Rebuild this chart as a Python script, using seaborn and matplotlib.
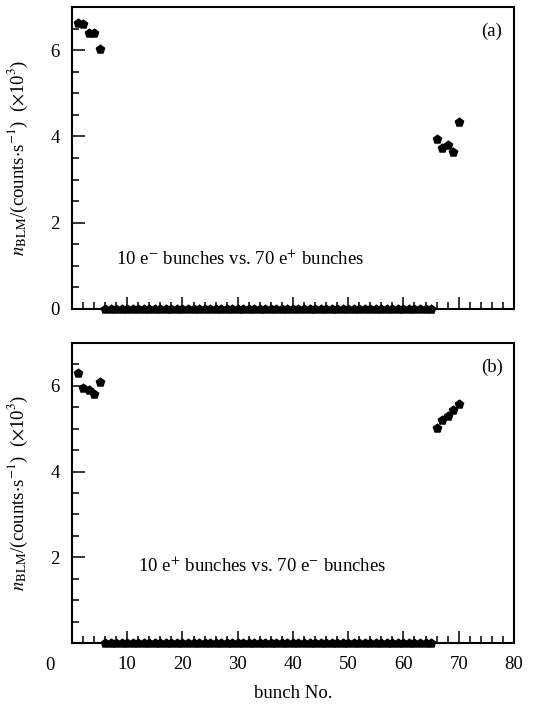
import matplotlib
matplotlib.use("Agg")
import matplotlib.pyplot as plt
import matplotlib.transforms as mtransforms
from matplotlib.ticker import MultipleLocator
import seaborn as sns
import pandas as pd

# --------------------------------------------------------------
# Data, n_BLM in units of 10^3 counts/s
# --------------------------------------------------------------

bunch_left = [1, 2, 3, 4, 5]
bunch_right = [66, 67, 68, 69, 70]
bunch_mid = list(range(6, 66))
zeros_mid = [0.0] * len(bunch_mid)

# (a) 10 e- bunches vs. 70 e+ bunches
nblm_a_left = [6.62, 6.61, 6.40, 6.39, 6.02]
nblm_a_right = [3.94, 3.73, 3.80, 3.63, 4.33]

# (b) 10 e+ bunches vs. 70 e- bunches
nblm_b_left = [6.30, 5.95, 5.90, 5.82, 6.10]
nblm_b_right = [5.02, 5.20, 5.30, 5.44, 5.58]

panel_labels = ["(a)", "(b)"]
panel_texts = [r"10 e$^{-}$ bunches vs. 70 e$^{+}$ bunches",
               r"10 e$^{+}$ bunches vs. 70 e$^{-}$ bunches"]
text_pos = [(8, 1.15), (12, 1.8)]

sns.set_style("white")
plt.rcParams["font.family"] = ["Liberation Serif", "DejaVu Serif"]
plt.rcParams["mathtext.fontset"] = "stix"
plt.rcParams["text.color"] = "black"
plt.rcParams["axes.labelcolor"] = "black"

FS = 13.5


def panel_frame(left, right):
    return pd.DataFrame({
        "bunch": bunch_left + bunch_mid + bunch_right,
        "nblm": left + zeros_mid + right,
    })


frames = [panel_frame(nblm_a_left, nblm_a_right),
          panel_frame(nblm_b_left, nblm_b_right)]

fig = plt.figure(figsize=(5.35, 7.04), dpi=100)
ax_a = fig.add_axes([0.1346, 0.5611, 0.826, 0.4290])
ax_b = fig.add_axes([0.1346, 0.0866, 0.826, 0.4261])

ylabel = r"$n_{\rm BLM}$/(counts$\cdot$s$^{-1}$)  ($\times$10$^{3}$)"

for i, (ax, df) in enumerate(zip([ax_a, ax_b], frames)):
    sns.scatterplot(data=df, x="bunch", y="nblm", ax=ax, marker="p",
                    s=42, color="black", edgecolor="black", linewidth=0.8,
                    clip_on=False, zorder=5, legend=False)
    ax.set_xlim(0, 80)
    ax.set_ylim(0, 7)

    for sp in ax.spines.values():
        sp.set_linewidth(1.5)
        sp.set_color("black")

    ax.xaxis.set_major_locator(MultipleLocator(10))
    ax.xaxis.set_minor_locator(MultipleLocator(2))
    ax.yaxis.set_major_locator(MultipleLocator(2))
    ax.yaxis.set_minor_locator(MultipleLocator(0.5))
    ax.tick_params(which="both", direction="in", top=False, right=False,
                   bottom=True, left=True, width=1.1, colors="black",
                   labelcolor="black", labelsize=FS)
    ax.tick_params(which="major", length=9, pad=9)
    ax.tick_params(which="minor", length=5)

    ax.set_ylabel(ylabel, fontsize=FS)
    ax.yaxis.set_label_coords(-0.095, 0.5)
    ax.set_xlabel("")

    ax.text(0.95, 0.92, panel_labels[i], transform=ax.transAxes,
            ha="center", va="center", fontsize=FS)
    ax.text(text_pos[i][0], text_pos[i][1], panel_texts[i],
            ha="left", va="center", fontsize=FS)

# top panel: no x tick labels, y labels 0..6
ax_a.set_xticklabels([])
ax_a.set_yticks([0, 2, 4, 6])
ax_a.set_yticklabels(["0", "2", "4", "6"])

# bottom panel: y labels 2..6, x labels 10..80 with a shifted "0"
ax_b.set_yticks([2, 4, 6])
ax_b.set_yticklabels(["2", "4", "6"])
ax_b.set_xticks([0, 10, 20, 30, 40, 50, 60, 70, 80])
ax_b.set_xticklabels(["", "10", "20", "30", "40", "50", "60", "70", "80"])
trans = mtransforms.blended_transform_factory(ax_b.transData, ax_b.transAxes)
ax_b.text(-4.0, -0.075, "0", transform=trans, ha="center", va="center",
          fontsize=FS, clip_on=False)
ax_b.set_xlabel("bunch No.", fontsize=FS, labelpad=9)

fig.savefig("out.png", dpi=100)
